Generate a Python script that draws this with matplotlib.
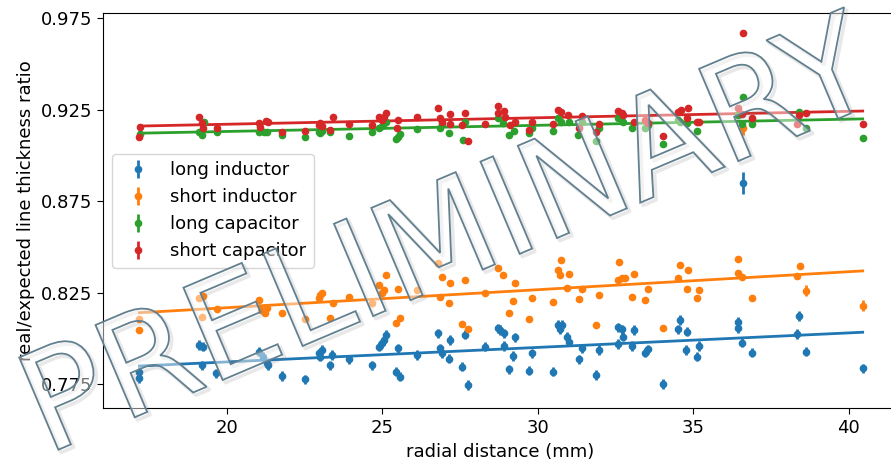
import numpy as np
from matplotlib import pyplot as plt
from matplotlib import patheffects as pe

# long inductor
li_x = [17.19, 17.19, 19.09, 19.25, 19.2, 19.65, 21.05, 21.18, 21.29, 21.34, 21.79, 22.5,
        22.95, 23.05, 23.0, 23.32, 23.38, 23.94, 24.68, 24.91, 24.98, 25.06, 25.11, 25.52,
        25.44, 25.57, 26.11, 26.80, 26.86, 26.91, 27.18, 27.15, 27.56, 27.66, 27.77, 28.31,
        28.73, 28.79, 28.92, 28.9, 29.27, 29.22, 29.09, 29.81, 29.73, 30.48, 30.66, 30.72,
        30.77, 30.93, 31.0, 31.41, 31.33, 31.87, 31.97, 32.59, 32.70, 32.75, 32.59, 33.02,
        33.1, 33.45, 33.53, 34.02, 34.52, 34.58, 34.81, 34.77, 35.2, 35.11, 36.43, 36.43,
        36.58, 36.88, 38.41, 38.35, 38.63, 40.45, 36.61]
li_y = [0.7819, 0.7784, 0.7965, 0.7955, 0.7855, 0.781, 0.7928, 0.790, 0.7865, 0.7855, 0.7795, 0.7777,
        0.7919, 0.7937, 0.790, 0.7855, 0.791, 0.7887, 0.7855, 0.7955, 0.7974, 0.7992, 0.802, 0.7947,
        0.7819, 0.7792, 0.791, 0.8029, 0.7947, 0.7919, 0.7992, 0.789, 0.7846, 0.802, 0.7746, 0.7955,
        0.8056, 0.8047, 0.8029, 0.7959, 0.8007, 0.7905, 0.7832, 0.7919, 0.7824, 0.7819, 0.8074, 0.805,
        0.8074, 0.801, 0.7983, 0.7947, 0.7887, 0.7801, 0.7937, 0.8061, 0.805, 0.801, 0.797, 0.7959,
        0.8047, 0.7923, 0.7941, 0.7752, 0.805, 0.8101, 0.8037, 0.7937, 0.7959, 0.79, 0.8092, 0.8056,
        0.7977, 0.7923, 0.8123, 0.8025, 0.7928, 0.7837, 0.8852]
li_err = [0.0025] * 78 + [0.006]

# short inductor
si_x = [17.19, 17.19, 19.11, 19.25, 19.2, 19.67, 21.05, 21.1, 21.23, 21.29, 21.79, 22.5,
        22.95, 23.05, 23.0, 23.32, 23.40, 23.94, 24.68, 24.91, 24.98, 25.06, 25.11, 25.52,
        25.44, 25.57, 26.11, 26.80, 26.86, 26.91, 27.18, 27.15, 27.56, 27.66, 27.77, 28.31,
        28.73, 28.89, 29.27, 29.22, 29.09, 29.81, 29.73, 30.48, 30.66, 30.75, 30.72, 31.0,
        30.95, 31.41, 31.33, 31.87, 31.97, 32.62, 32.59, 32.70, 32.81, 33.1, 33.02, 33.45,
        33.56, 34.02, 34.5, 34.58, 34.82, 34.79, 35.2, 35.11, 36.43, 36.45, 36.58, 36.88,
        38.43, 38.35, 38.63, 40.45, 36.61]
si_y = [0.8107, 0.8047, 0.822, 0.8233, 0.8119, 0.816, 0.8211, 0.8156, 0.8138, 0.8165, 0.8138, 0.8105,
        0.822, 0.8247, 0.8238, 0.8111, 0.8196, 0.8225, 0.8193, 0.8293, 0.8247, 0.8265, 0.8347, 0.8269,
        0.8083, 0.8114, 0.8265, 0.8411, 0.8225, 0.8338, 0.8302, 0.8196, 0.8078, 0.832, 0.805, 0.825,
        0.8384, 0.8347, 0.8305, 0.8205, 0.8138, 0.8223, 0.8107, 0.8201, 0.8375, 0.8429, 0.8347, 0.8351,
        0.8275, 0.8269, 0.8214, 0.8074, 0.8238, 0.842, 0.832, 0.8329, 0.8329, 0.8351, 0.8225, 0.8211,
        0.8271, 0.8056, 0.8329, 0.8402, 0.8375, 0.8269, 0.8265, 0.8223, 0.8435, 0.8357, 0.8335, 0.822,
        0.8396, 0.8343, 0.8261, 0.8179, 0.915]
si_err = [0.0008] * 74 + [0.003, 0.003, 0.004]

# long capacitor
lc_x = [17.2, 19.1, 19.2, 19.27, 19.67, 21.05, 21.2, 21.3, 21.79, 22.5, 22.95, 23.0, 23.05,
        23.32, 23.94, 24.68, 24.91, 24.98, 25.06, 25.11, 25.44, 25.52, 25.57, 26.11, 26.86,
        26.91, 27.15, 27.66, 27.59, 28.73, 28.89, 29.07, 29.23, 29.81, 29.73, 30.48, 30.66,
        30.75, 31.0, 31.31, 31.41, 31.87, 31.97, 32.59, 32.75, 33.02, 33.45, 33.53, 34.02,
        34.52, 34.58, 34.79, 35.11, 36.61, 36.45, 36.58, 36.88, 38.41, 38.63, 40.45]
lc_y = [0.912, 0.913, 0.9112, 0.9185, 0.9131, 0.913, 0.913, 0.913, 0.9112, 0.9103, 0.913, 0.9125, 0.9134,
        0.913, 0.9107, 0.913, 0.9149, 0.9161, 0.9176, 0.9185, 0.9089, 0.9103, 0.9116, 0.9143, 0.9149,
        0.9171, 0.9125, 0.9185, 0.9085, 0.9203, 0.9176, 0.9112, 0.9134, 0.9149, 0.9122, 0.9134, 0.9203,
        0.9185, 0.9185, 0.9112, 0.9185, 0.9079, 0.9152, 0.9207, 0.9185, 0.9149, 0.9149, 0.9167, 0.9063,
        0.9194, 0.9185, 0.9176, 0.9134, 0.9322, 0.9222, 0.9172, 0.9171, 0.9239, 0.9149, 0.9094]

# short capacitor
sc_x = [17.2, 17.19, 19.11, 19.2, 19.25, 19.67, 21.05, 21.07, 21.25, 21.32, 21.79, 22.5,
        22.95, 23.0, 23.05, 23.32, 23.43, 23.94, 24.68, 24.91, 24.98, 25.06, 25.11, 25.52,
        25.47, 26.11, 26.80, 26.86, 26.91, 27.18, 27.18, 27.56, 27.66, 27.77, 28.31, 28.73,
        28.92, 28.73, 28.95, 29.11, 29.27, 29.81, 29.73, 30.48, 30.66, 30.74, 30.98, 31.41,
        31.33, 31.87, 31.97, 32.59, 32.70, 32.75, 33.1, 33.45, 33.53, 34.02, 34.52, 34.6,
        34.82, 34.79, 35.11, 35.2, 36.61, 36.45, 36.58, 36.88, 38.41, 38.35, 38.63, 40.45]
sc_y = [0.9158, 0.9100, 0.9209, 0.9176, 0.9149, 0.9149, 0.9176, 0.9158, 0.919, 0.9185, 0.9127, 0.9134,
        0.9167, 0.9176, 0.9161, 0.914, 0.9209, 0.9171, 0.9167, 0.9212, 0.9194, 0.9212, 0.9234, 0.9194,
        0.9149, 0.9212, 0.9258, 0.9203, 0.9185, 0.9225, 0.9171, 0.9167, 0.9231, 0.9079, 0.9171, 0.9271,
        0.9243, 0.9231, 0.9212, 0.9167, 0.9185, 0.9185, 0.914, 0.9171, 0.9249, 0.9236, 0.9222, 0.9218,
        0.9149, 0.9127, 0.9172, 0.9243, 0.9231, 0.9222, 0.9185, 0.9194, 0.9176, 0.9109, 0.9236, 0.9249,
        0.9258, 0.9203, 0.9182, 0.9185, 0.9668, 0.9262, 0.9225, 0.9203, 0.9222, 0.9172, 0.9231, 0.9172]
small_err = 0.0005

# linear fits: value at x = 17.2 and slope per mm
fit_start = [0.7850, 0.8141, 0.9122, 0.9161]
fit_slope = [0.000793, 0.000983, 0.000336, 0.000353]

labels = ['long inductor', 'short inductor', 'long capacitor', 'short capacitor']
colors = ['tab:blue', 'tab:orange', 'tab:green', 'tab:red']

plt.rcParams['font.size'] = 13

fig = plt.figure(figsize=(8.91, 4.65), dpi=100)
ax = fig.add_axes([0.116, 0.122, 0.8913, 0.8494])

series = [(li_x, li_y, li_err), (si_x, si_y, si_err),
          (lc_x, lc_y, small_err), (sc_x, sc_y, small_err)]
for (x, y, e), lab, c in zip(series, labels, colors):
    ax.errorbar(x, y, yerr=e, fmt='o', ms=4.5, elinewidth=2, color=c, label=lab)

for (x, y, e), a, b, c in zip(series, fit_start, fit_slope, colors):
    xf = np.array([min(x), max(x)])
    ax.plot(xf, a + b * (xf - 17.2), color=c, lw=2)

ax.set_xlim(16.03, 41.57)
ax.set_ylim(0.7619, 0.9777)
ax.set_yticks([0.775, 0.825, 0.875, 0.925, 0.975])
ax.set_xticks([20, 25, 30, 35, 40])
ax.tick_params(length=4.5)
ax.set_xlabel('radial distance (mm)')
ax.set_ylabel('real/expected line thickness ratio')
ax.legend(loc='center left')

# watermark
fig.text(0.505, 0.478, 'PRELIMINARY', fontsize=99, rotation=23,
         ha='center', va='center', color='white',
         path_effects=[pe.SimpleLineShadow(offset=(2, -2), shadow_color='gray', alpha=0.18, linewidth=2.5),
                       pe.PathPatchEffect(facecolor=(1, 1, 1, 0.45), edgecolor='#62808f', linewidth=1.3)])

plt.savefig('out.png', dpi=100)
